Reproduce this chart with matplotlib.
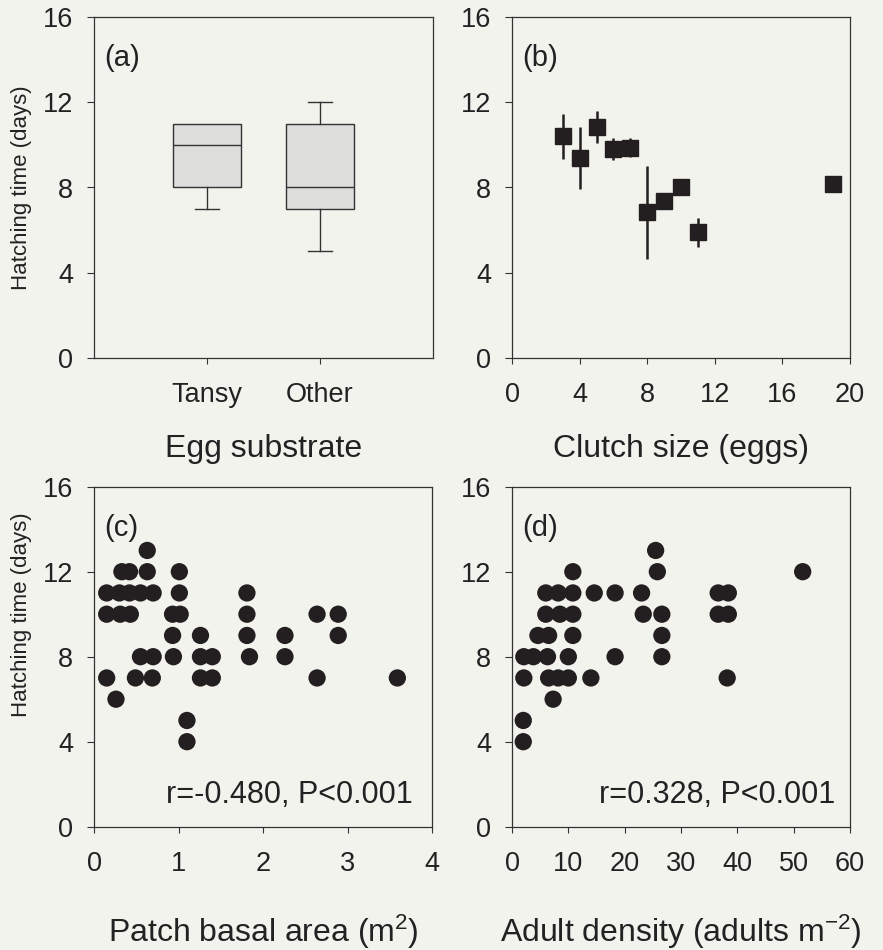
import matplotlib
matplotlib.use("Agg")
import matplotlib.pyplot as plt
import numpy as np

plt.rcParams['font.family'] = ['Liberation Sans', 'DejaVu Sans']
plt.rcParams['mathtext.default'] = 'regular'

# ---------------- data ----------------
# (a) box plots
substrates = ["Tansy", "Other"]
box_whislo = [7, 5]
box_q1 = [8, 7]
box_med = [10, 8]
box_q3 = [11, 11]
box_whishi = [11, 12]

# (b) clutch size vs mean hatching time (± error)
clutch_size = [3, 4, 5, 6, 7, 8, 9, 10, 11, 19]
clutch_mean = [10.4, 9.37, 10.86, 9.8, 9.87, 6.83, 7.35, 8.0, 5.9, 8.17]
clutch_err = [1.05, 1.45, 0.75, 0.5, 0.45, 2.2, 0.0, 0.0, 0.67, 0.0]

# (c) patch basal area vs hatching time
basal_area = [0.63,
              0.33, 0.42, 0.63, 1.01,
              0.15, 0.30, 0.42, 0.55, 0.70, 1.01, 1.81,
              0.15, 0.31, 0.43, 0.93, 1.02, 1.81, 2.64, 2.89,
              0.93, 1.26, 1.81, 2.26, 2.89,
              0.55, 0.70, 0.94, 1.26, 1.40, 1.84, 2.26,
              0.15, 0.49, 0.69, 1.26, 1.40, 2.64, 3.59,
              0.26, 1.10, 1.10]
basal_hatch = [13,
               12, 12, 12, 12,
               11, 11, 11, 11, 11, 11, 11,
               10, 10, 10, 10, 10, 10, 10, 10,
               9, 9, 9, 9, 9,
               8, 8, 8, 8, 8, 8, 8,
               7, 7, 7, 7, 7, 7, 7,
               6, 5, 4]

# (d) adult density vs hatching time
density = [25.5,
           10.8, 25.8, 51.6,
           6.0, 8.2, 10.8, 14.6, 18.3, 23.0, 36.6, 38.4,
           6.0, 8.5, 10.8, 23.3, 26.6, 36.6, 38.4,
           4.6, 6.5, 10.8, 26.6,
           2.1, 3.8, 6.3, 10.0, 18.3, 26.6,
           2.1, 6.5, 8.2, 10.0, 14.0, 38.2,
           7.3, 2.0, 2.0]
density_hatch = [13,
                 12, 12, 12,
                 11, 11, 11, 11, 11, 11, 11, 11,
                 10, 10, 10, 10, 10, 10, 10,
                 9, 9, 9, 9,
                 8, 8, 8, 8, 8, 8,
                 7, 7, 7, 7, 7, 7,
                 6, 5, 4]

yticks = [0, 4, 8, 12, 16]

# ---------------- style ----------------
BG = '#f3f3ee'
INK = '#231f20'
W, H = 883, 950

fig = plt.figure(figsize=(W / 100, H / 100), dpi=100, facecolor=BG)


def make_ax(left, right, top, bottom):
    ax = fig.add_axes([left / W, (H - bottom) / H, (right - left) / W, (bottom - top) / H])
    ax.set_facecolor(BG)
    for s in ax.spines.values():
        s.set_color('#333333')
        s.set_linewidth(0.9)
    ax.tick_params(axis='y', direction='out', length=5, width=0.8, pad=10,
                   labelsize=19.5, colors='#333333', labelcolor='#222222')
    ax.tick_params(axis='x', direction='out', length=4, width=0.8, pad=13.5,
                   labelsize=19.5, colors='#333333', labelcolor='#222222')
    ax.set_ylim(0, 16)
    ax.set_yticks(yticks)
    return ax


ax_a = make_ax(94, 433, 17, 358)
ax_b = make_ax(512, 850, 17, 358)
ax_c = make_ax(94, 432, 486.7, 826.7)
ax_d = make_ax(512, 850, 486.7, 826.7)


def panel_label(ax, s):
    ax.text(0.03, 0.855, s, transform=ax.transAxes, fontsize=21, color='#222222',
            ha='left', va='baseline')


def xlab(ax, s, ybase):
    ax.set_xlabel(s, fontsize=23, color='#222222')
    ax.xaxis.label.set_verticalalignment('baseline')
    ax.xaxis.set_label_coords(0.5, ybase)


# (a)
stats = []
for i in range(len(substrates)):
    stats.append(dict(med=box_med[i], q1=box_q1[i], q3=box_q3[i],
                      whislo=box_whislo[i], whishi=box_whishi[i], fliers=[]))
bp = ax_a.bxp(stats, positions=[1, 2], widths=0.6, patch_artist=True, showfliers=False,
              boxprops=dict(facecolor='#dddddb', edgecolor='#333333', linewidth=1.0),
              medianprops=dict(color='#333333', linewidth=1.0),
              whiskerprops=dict(color='#333333', linewidth=1.0),
              capprops=dict(color='#333333', linewidth=1.0), capwidths=0.21)
# no cap where the whisker has zero length
for i in range(len(substrates)):
    if box_whishi[i] == box_q3[i]:
        bp['caps'][2 * i + 1].set_visible(False)
    if box_whislo[i] == box_q1[i]:
        bp['caps'][2 * i].set_visible(False)
ax_a.set_xlim(0, 3)
ax_a.set_xticks([1, 2])
ax_a.set_xticklabels(substrates)
ax_a.set_ylabel('Hatching time (days)', fontsize=16, color='#222222')
ax_a.yaxis.set_label_coords(-0.183, 0.5)
xlab(ax_a, 'Egg substrate', -0.2894)
panel_label(ax_a, '(a)')

# (b)
ax_b.errorbar(clutch_size, clutch_mean, yerr=clutch_err, fmt='s', color=INK,
              markersize=11, elinewidth=1.8, capsize=0, ecolor=INK, mec=INK)
ax_b.set_xlim(0, 20)
ax_b.set_xticks([0, 4, 8, 12, 16, 20])
xlab(ax_b, 'Clutch size (eggs)', -0.2894)
panel_label(ax_b, '(b)')

# (c)
ax_c.scatter(basal_area, basal_hatch, s=155, color=INK, edgecolors='none')
ax_c.set_xlim(0, 4)
ax_c.set_xticks([0, 1, 2, 3, 4])
ax_c.set_ylabel('Hatching time (days)', fontsize=16, color='#222222')
ax_c.yaxis.set_label_coords(-0.183, 0.623)
xlab(ax_c, 'Patch basal area (m$^2$)', -0.338)
panel_label(ax_c, '(c)')
ax_c.text(0.944, 0.07, 'r=-0.480, P<0.001', transform=ax_c.transAxes, fontsize=22,
          color='#222222', ha='right', va='baseline')

# (d)
ax_d.scatter(density, density_hatch, s=155, color=INK, edgecolors='none')
ax_d.set_xlim(0, 60)
ax_d.set_xticks([0, 10, 20, 30, 40, 50, 60])
xlab(ax_d, 'Adult density (adults m$^{-2}$)', -0.338)
panel_label(ax_d, '(d)')
ax_d.text(0.956, 0.07, 'r=0.328, P<0.001', transform=ax_d.transAxes, fontsize=22,
          color='#222222', ha='right', va='baseline')

fig.savefig('out.png', dpi=100, facecolor=BG)
